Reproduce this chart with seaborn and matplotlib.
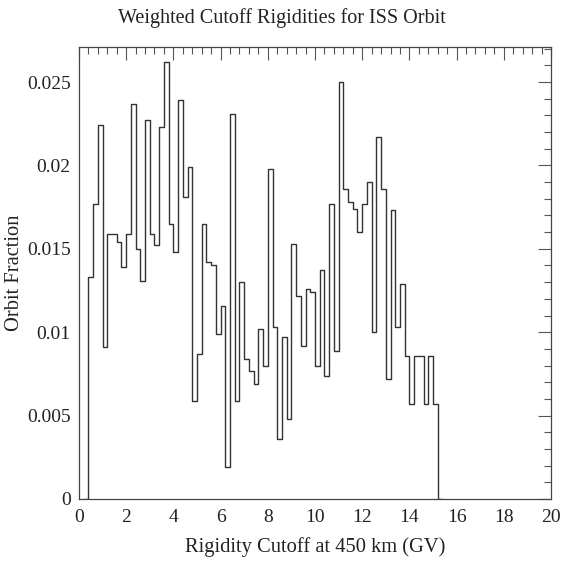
import numpy as np
import pandas as pd
import matplotlib
matplotlib.use("Agg")
import matplotlib.pyplot as plt
import seaborn as sns
from matplotlib.ticker import MultipleLocator

# Bin layout of the histogram (GV): 0.2 GV bins from 0.4 to 15.2
bin_width = 0.2
bin_start = 0.4

# Orbit fraction in each bin
orbit_fraction = [
    0.0133, 0.0177, 0.0224, 0.0091, 0.0159, 0.0159, 0.0154, 0.0139, 0.0159, 0.0237,
    0.0150, 0.0131, 0.0227, 0.0159, 0.0152, 0.0223, 0.0262, 0.0165, 0.0148, 0.0239,
    0.0181, 0.0199, 0.0059, 0.0087, 0.0165, 0.0142, 0.0140, 0.0099, 0.0116, 0.0019,
    0.0231, 0.0059, 0.0130, 0.0084, 0.0077, 0.0069, 0.0102, 0.0080, 0.0198, 0.0103,
    0.0036, 0.0097, 0.0048, 0.0153, 0.0122, 0.0092, 0.0126, 0.0124, 0.0080, 0.0137,
    0.0074, 0.0177, 0.0089, 0.0250, 0.0186, 0.0178, 0.0174, 0.0160, 0.0177, 0.0190,
    0.0100, 0.0217, 0.0186, 0.0072, 0.0173, 0.0103, 0.0129, 0.0086, 0.0057, 0.0086,
    0.0086, 0.0057, 0.0086, 0.0057,
]

x_ticks = [0, 2, 4, 6, 8, 10, 12, 14, 16, 18, 20]
y_ticks = [0, 0.005, 0.01, 0.015, 0.02, 0.025]
y_tick_labels = ["0", "0.005", "0.01", "0.015", "0.02", "0.025"]

# one empty bin on each side so the outline drops to zero at both ends
n_bins = len(orbit_fraction)
edges = bin_start + bin_width * np.arange(-1, n_bins + 2)
centers = (edges[:-1] + edges[1:]) / 2
weights = [0.0] + orbit_fraction + [0.0]
hist_df = pd.DataFrame({"rigidity": centers, "fraction": weights})

sns.set_style("white")
plt.rcParams["font.family"] = ["Liberation Serif", "DejaVu Serif"]

line_color = "#333333"
text_color = "#222222"

fig = plt.figure(figsize=(5.64, 5.63), dpi=100)
ax = fig.add_axes([0.140, 0.1137, 0.837, 0.8028])

# bins passed as a list (seaborn compares bins to "auto")
sns.histplot(data=hist_df, x="rigidity", weights="fraction", bins=list(edges),
             element="step", fill=False, color=line_color, linewidth=1.0, ax=ax)

ax.set_xlim(0, 20)
ax.set_ylim(0, 0.0271)

ax.set_xticks(x_ticks)
ax.set_xticklabels([str(t) for t in x_ticks])
ax.xaxis.set_minor_locator(MultipleLocator(0.4))
ax.set_yticks(y_ticks)
ax.set_yticklabels(y_tick_labels)
ax.yaxis.set_minor_locator(MultipleLocator(0.001))

ax.tick_params(which="both", direction="in", top=True, right=True,
               color="#555555", width=0.8, labelsize=14, labelcolor=text_color)
ax.tick_params(which="major", length=9.5)
ax.tick_params(which="minor", length=5)
ax.tick_params(axis="x", which="major", pad=7)
ax.tick_params(axis="y", which="major", pad=6)

for spine in ax.spines.values():
    spine.set_visible(True)
    spine.set_color("#444444")
    spine.set_linewidth(0.9)

ax.set_xlabel("Rigidity Cutoff at 450 km (GV)", fontsize=14.8, color=text_color, labelpad=8)
ax.set_ylabel("Orbit Fraction", fontsize=14.8, color=text_color, labelpad=2)
# title is centred on the whole canvas, not on the axes
fig.suptitle("Weighted Cutoff Rigidities for ISS Orbit", x=0.5, y=0.968, va="center",
             fontsize=14.5, color=text_color)

fig.savefig("out.png", dpi=100, facecolor="white")
